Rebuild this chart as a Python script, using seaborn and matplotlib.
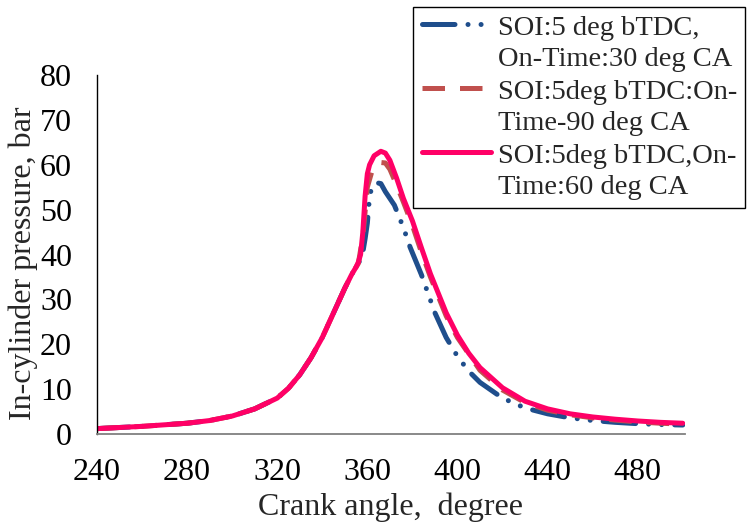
import numpy as np
import pandas as pd
import matplotlib
matplotlib.use("Agg")
import matplotlib.pyplot as plt
from matplotlib.legend_handler import HandlerLine2D
from matplotlib.lines import Line2D
import seaborn as sns

# Data
x_60 = [240, 260, 280, 290, 300, 310, 320, 325, 330, 335, 340, 345, 350, 353, 355, 356, 357, 358, 359, 360, 361,
        363, 366, 368, 370, 373, 376, 380, 384, 388, 395, 400, 405, 410, 420, 430, 440, 450, 460, 470, 480, 490, 500]
p_60 = [1.2, 1.7, 2.4, 3.0, 4.0, 5.6, 8.0, 10.2, 13.2, 17.0, 21.5, 27.0, 32.5, 35.5, 37.2, 38.3, 40.0, 45.0, 53.0, 58.0, 60.0,
        62.0, 63.0, 62.6, 61.0, 57.0, 52.5, 47.5, 41.5, 35.7, 27.0, 22.0, 18.0, 14.8, 10.3, 7.3, 5.6, 4.5, 3.8, 3.3, 2.9, 2.6, 2.4]

x_90 = [240, 260, 280, 290, 300, 310, 320, 325, 330, 335, 340, 345, 350, 353, 355, 356, 358, 360, 362, 364, 366, 368,
        370, 373, 376, 380, 384, 388, 395, 400, 410, 420, 430, 440, 450, 460, 470, 480, 490, 500]
p_90 = [1.2, 1.7, 2.4, 3.0, 4.0, 5.6, 8.0, 10.2, 13.2, 17.0, 21.5, 27.0, 32.5, 35.5, 37.2, 38.0, 44.0, 55.0, 58.5, 60.0, 60.5, 60.4,
        59.0, 55.5, 51.7, 46.5, 40.5, 35.0, 26.3, 21.5, 14.2, 9.8, 7.0, 5.3, 4.3, 3.6, 3.1, 2.7, 2.4, 2.2]

x_30 = [240, 260, 280, 290, 300, 310, 320, 325, 330, 335, 340, 345, 350, 353, 355, 356, 357, 358, 359, 360, 361, 362,
        364, 366, 368, 370, 372, 376, 379, 384, 390, 395, 400, 405, 410, 420, 430, 440, 450, 460, 470, 480, 490, 500]
p_30 = [1.2, 1.7, 2.4, 3.0, 4.0, 5.6, 8.0, 10.2, 13.2, 17.0, 21.5, 27.0, 32.5, 35.5, 37.2, 38.0, 39.0, 40.5, 43.5, 47.0, 53.0, 55.0,
        56.0, 55.8, 54.0, 52.5, 51.0, 46.0, 41.6, 35.5, 27.0, 21.5, 17.3, 14.0, 11.5, 8.0, 5.8, 4.5, 3.6, 3.0, 2.6, 2.3, 2.1, 2.0]

labels = ["SOI:5 deg bTDC,\nOn-Time:30 deg CA",
          "SOI:5deg bTDC:On-\nTime-90 deg CA",
          "SOI:5deg bTDC,On-\nTime:60 deg CA"]
x_ticks = [240, 280, 320, 360, 400, 440, 480]
y_ticks = [0, 10, 20, 30, 40, 50, 60, 70, 80]

FS = 23
LFS = 20.5


class TopHandler(HandlerLine2D):
    def __init__(self, offset, **kw):
        super().__init__(**kw)
        self.offset = offset

    def create_artists(self, legend, orig_handle, xdescent, ydescent, width, height, fontsize, trans):
        arts = super().create_artists(legend, orig_handle, xdescent, ydescent, width, height, fontsize, trans)
        for a in arts:
            if isinstance(a, Line2D):
                a.set_ydata(np.asarray(a.get_ydata()) + self.offset)
        return arts


sns.set_style("white")
plt.rcParams['font.family'] = ['Liberation Serif', 'DejaVu Serif']

fig = plt.figure(figsize=(7.48, 5.24), dpi=100)
ax = fig.add_axes([97/748, 1 - 434/524, (685 - 97)/748, (434 - 75)/524])

df30 = pd.DataFrame({"x": x_30, "y": p_30})
df90 = pd.DataFrame({"x": x_90, "y": p_90})
df60 = pd.DataFrame({"x": x_60, "y": p_60})

sns.lineplot(data=df30, x="x", y="y", ax=ax, color="#1F4E8C", lw=3.6, label=labels[0])
l30 = ax.lines[-1]
l30.set_dashes((6.5, 2.6, 0.01, 2.6, 0.01, 2.6))
l30.set_dash_capstyle("round")

sns.lineplot(data=df90, x="x", y="y", ax=ax, color="#C0504D", lw=3.6, label=labels[1])
l90 = ax.lines[-1]
l90.set_dashes((4.5, 3.0))
l90.set_dash_capstyle("butt")

sns.lineplot(data=df60, x="x", y="y", ax=ax, color="#FF0066", lw=3.6, label=labels[2])
ax.lines[-1].set_solid_capstyle("round")

ax.set_xlim(240, 501)
ax.set_ylim(0, 80)
ax.set_xticks(x_ticks)
ax.set_yticks(y_ticks)
ax.tick_params(axis='both', length=0, labelsize=FS, colors='black')
ax.tick_params(axis='x', pad=17)
ax.tick_params(axis='y', pad=18)

for s in ["top", "right"]:
    ax.spines[s].set_visible(False)
ax.spines["left"].set_color("black")
ax.spines["left"].set_linewidth(1.0)
ax.spines["bottom"].set_color("#808080")
ax.spines["bottom"].set_linewidth(1.3)

ax.set_xlabel("Crank angle,  degree", fontsize=FS, labelpad=4)
ax.set_ylabel("In-cylinder pressure, bar", fontsize=FS)
ax.yaxis.set_label_coords(-0.10, 0.476)

handles, _ = ax.get_legend_handles_labels()
hmap = {h: TopHandler(offset=LFS * 0.66) for h in handles}
leg = ax.legend(handles, labels, loc="upper left", bbox_to_anchor=(413/748, 1 - 7/524), bbox_transform=fig.transFigure,
                fontsize=LFS, frameon=True, fancybox=False, handlelength=2.45, handletextpad=0.22,
                borderpad=0.3, labelspacing=0.28, borderaxespad=0, handler_map=hmap)
leg.get_frame().set_edgecolor("black")
leg.get_frame().set_linewidth(1.0)
leg.get_frame().set_alpha(1)
for t in leg.get_texts():
    t.set_linespacing(1.32)

fig.savefig("out.png", dpi=100)
